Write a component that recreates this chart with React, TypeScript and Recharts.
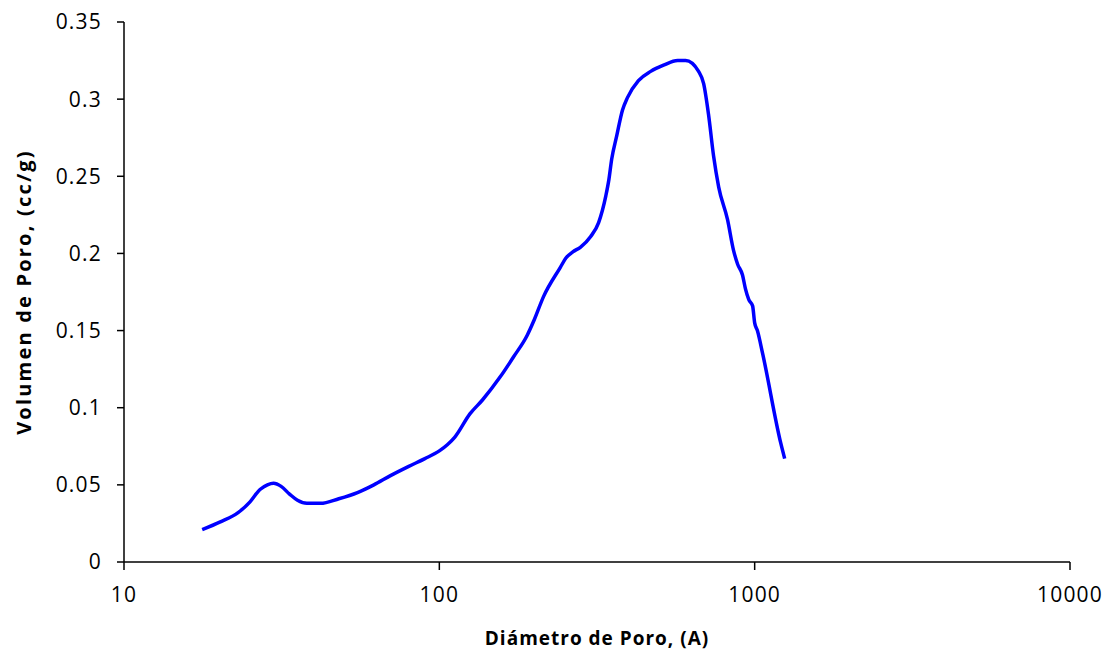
import React from 'react';
import { LineChart, Line, XAxis, YAxis, Label } from 'recharts';

// Pore size distribution: diameter (A) vs pore volume (cc/g)
const diameters = [
  17.7, 20.2, 23.0, 25.1, 27.0, 28.5, 29.8, 31.5, 33.5, 35.5, 38, 42, 48, 55, 62, 70, 80, 90, 100, 106,
  112, 125, 137, 156, 172, 190, 200, 214, 242, 252, 265, 280, 302, 320, 337, 345, 352, 365, 381, 395,
  428, 468, 514, 570, 604, 664, 689, 714, 741, 769, 820, 857, 883, 915, 935, 958, 985, 1000, 1020, 1060,
  1210, 1245,
];
const volumes = [
  0.021, 0.026, 0.032, 0.039, 0.047, 0.05, 0.051, 0.049, 0.044, 0.04, 0.038, 0.038, 0.041, 0.045, 0.05, 0.056, 0.062, 0.067, 0.072, 0.076,
  0.081, 0.096, 0.105, 0.12, 0.133, 0.147, 0.157, 0.172, 0.191, 0.197, 0.201, 0.204, 0.211, 0.22, 0.237, 0.248, 0.261, 0.276, 0.293, 0.301,
  0.312, 0.318, 0.322, 0.325, 0.325, 0.318, 0.31, 0.29, 0.263, 0.243, 0.222, 0.202, 0.193, 0.186, 0.177, 0.17, 0.166, 0.155, 0.15, 0.135,
  0.077, 0.067,
];

const xTicks = [10, 100, 1000, 10000];
const yTicks = [0, 0.05, 0.1, 0.15, 0.2, 0.25, 0.3, 0.35];

const data = diameters.map((d, i) => ({ d, v: volumes[i] }));

const tickStyle = { fontFamily: 'Open Sans', fontSize: 21, fill: '#000', letterSpacing: 1.2 };
const xTitleStyle = { fontFamily: 'Open Sans', fontSize: 19, fontWeight: 700, fill: '#000', letterSpacing: 1 };
const yTitleStyle = { fontFamily: 'Open Sans', fontSize: 20, fontWeight: 700, fill: '#000', letterSpacing: 2.2 };

const App: React.FC = () => {
  return (
    <div style={{ position: 'absolute', left: 0, top: 0, background: '#fff' }}>
      <LineChart width={1113} height={654} data={data} margin={{ top: 22, right: 43, left: 0, bottom: 0 }}>
        <XAxis
          dataKey="d"
          type="number"
          scale="log"
          domain={[10, 10000]}
          ticks={xTicks}
          allowDataOverflow
          height={92}
          tickSize={8}
          tickMargin={17}
          tick={tickStyle}
          axisLine={{ stroke: '#000', strokeWidth: 1.5 }}
          tickLine={{ stroke: '#000', strokeWidth: 1.5 }}
        >
          <Label value="Diámetro de Poro, (A)" position="insideBottom" offset={9} style={xTitleStyle} />
        </XAxis>
        <YAxis
          type="number"
          domain={[0, 0.35]}
          ticks={yTicks}
          width={124}
          tickSize={7}
          tickMargin={15}
          tick={tickStyle}
          axisLine={{ stroke: '#000', strokeWidth: 1.5 }}
          tickLine={{ stroke: '#000', strokeWidth: 1.5 }}
        >
          <Label value="Volumen de Poro, (cc/g)" position="center" angle={-90} dx={-38} style={yTitleStyle} />
        </YAxis>
        <Line
          dataKey="v"
          type="monotone"
          stroke="#0000ff"
          strokeWidth={3.5}
          dot={false}
          isAnimationActive={false}
        />
      </LineChart>
    </div>
  );
};

export default App;
